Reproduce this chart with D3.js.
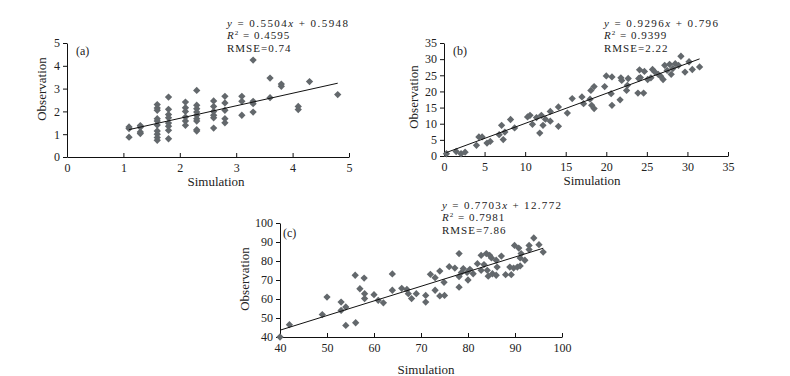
<!DOCTYPE html>
<html>
<head>
<meta charset="utf-8">
<script src="https://cdn.jsdelivr.net/npm/d3@7"></script>
<style>
  body { margin: 0; background: #fff; }
  svg { display: block; }
  text { font-family: "Liberation Serif", "Times New Roman", serif; fill: #222; }
</style>
</head>
<body>
<svg id="chart" width="790" height="376"></svg>
<script>
// panel (a) points [simulation, observation]
const pointsA = [
  [1.1, 1.32], [1.1, 1.25], [1.1, 0.87],
  [1.3, 1.38], [1.3, 1.3], [1.3, 1.1], [1.3, 1.03],
  [1.6, 2.3], [1.6, 2.15], [1.6, 2.05], [1.6, 1.68], [1.6, 1.58], [1.6, 1.4], [1.6, 1.14], [1.6, 1.0], [1.6, 0.85], [1.6, 0.73],
  [1.8, 2.63], [1.8, 2.09], [1.8, 1.86], [1.8, 1.72], [1.8, 1.49], [1.8, 1.35], [1.8, 1.17], [1.8, 0.8],
  [2.1, 2.41], [2.1, 2.16], [2.1, 2.0], [2.1, 1.75], [2.1, 1.58], [2.1, 1.39],
  [2.3, 2.92], [2.3, 2.27], [2.3, 2.12], [2.3, 1.97], [2.3, 1.83], [2.3, 1.68], [2.3, 1.58], [2.3, 1.2], [2.3, 1.14],
  [2.6, 2.46], [2.6, 2.22], [2.6, 2.0], [2.6, 1.83], [2.6, 1.72], [2.6, 1.27],
  [2.8, 2.66], [2.8, 2.37], [2.8, 2.05], [2.8, 1.68], [2.8, 1.5],
  [3.1, 2.66], [3.1, 2.44], [3.1, 1.83],
  [3.3, 4.25], [3.3, 2.44], [3.3, 2.34], [3.3, 1.97],
  [3.6, 3.46], [3.6, 2.6],
  [3.8, 3.2], [3.8, 3.1],
  [4.1, 2.22], [4.1, 2.08],
  [4.3, 3.31],
  [4.8, 2.74]
];

// panel (b) points
const pointsB = [
  [0.3, 0.7], [1.5, 1.4], [2.1, 0.7], [2.6, 1.2], [4.0, 3.3], [4.3, 5.9], [4.7, 5.9],
  [5.3, 4.0], [5.7, 4.5], [6.8, 6.6], [7.1, 9.5], [7.3, 5.1], [7.5, 7.4], [8.2, 11.3],
  [8.7, 8.7], [10.3, 12.1], [10.6, 12.6], [10.9, 9.8], [11.4, 11.9], [11.8, 7.1],
  [12.0, 12.6], [12.2, 9.5], [12.5, 11.4], [13.1, 10.8], [13.1, 13.8], [14.1, 15.2],
  [14.1, 9.2], [15.2, 13.3], [15.8, 17.8], [17.0, 18.3], [17.2, 16.2], [18.0, 17.6],
  [18.1, 20.3], [18.2, 15.7], [18.5, 14.7], [18.5, 21.5], [19.8, 21.5], [20.0, 24.8],
  [20.6, 19.3], [20.7, 24.5], [20.7, 15.7], [21.7, 17.4], [21.8, 24.2], [21.9, 23.4],
  [22.5, 20.3], [22.6, 21.9], [22.7, 24.0], [23.9, 19.5], [24.0, 24.0], [24.1, 26.7],
  [24.2, 24.3], [24.6, 19.5], [24.7, 26.2], [25.1, 23.7], [25.5, 24.2], [25.7, 26.8],
  [26.0, 26.0], [26.4, 25.3], [26.7, 24.7], [27.0, 23.7], [27.2, 28.1], [27.5, 26.5],
  [27.8, 28.4], [28.0, 25.3], [28.2, 27.1], [28.5, 28.6], [28.9, 28.1], [29.2, 30.9],
  [29.7, 26.0], [30.2, 29.2], [30.6, 26.8], [31.5, 27.6]
];

// panel (c) points
const pointsC = [
  [40, 40], [42, 46.5], [49, 51.8], [50, 61], [53, 58.4], [53, 54], [54, 55.8], [54, 46.1],
  [56, 72.5], [56.1, 47.5], [57, 65.4], [57.9, 71], [58, 62.8], [58, 60.2], [60, 62.3],
  [60.9, 59.3], [62, 58], [63.9, 73.2], [63.9, 64.6], [65.9, 65.6], [67, 65], [67.3, 62.8],
  [68, 60.2], [69, 62.8], [71, 61.9], [71, 58.4], [72, 73], [73, 71.2], [73, 64.6],
  [74, 74.7], [74, 61.6], [74.9, 68.8], [75, 61.9], [76, 77], [77.2, 76.3], [78.1, 83.9],
  [78.1, 71.8], [78.1, 66.2], [78.6, 74], [79, 76], [79.8, 74], [80, 70], [80.4, 75.6],
  [81.1, 73.3], [82, 78.6], [82.8, 83], [82.8, 75.1], [83.4, 78.1], [83.9, 83.9],
  [84.1, 75.1], [84.3, 72], [84.6, 83], [85, 81.6], [85.2, 73.3], [86, 72.5], [86, 80.4],
  [86.2, 76.8], [87.1, 82.6], [88, 72.8], [88.9, 76.8], [89.2, 72.8], [89.7, 76.3],
  [89.9, 88.2], [90.5, 76.8], [90.8, 86.8], [91.1, 81.6], [91.1, 77.4], [91.3, 83.9],
  [92.1, 80.4], [93, 88.2], [93, 86], [94, 92.1], [95.1, 88.6], [96, 84.7]
];

const fitSlope = [0.5504, 0.9296, 0.7703];
const fitIntercept = [0.5948, 0.796, 12.772];
const fitR2 = ['0.4595', '0.9399', '0.7981'];
const fitRmse = ['0.74', '2.22', '7.86'];
const panelLabels = ['(a)', '(b)', '(c)'];

const ticksA = [0, 1, 2, 3, 4, 5];
const ticksB = [0, 5, 10, 15, 20, 25, 30, 35];
const ticksC = [40, 50, 60, 70, 80, 90, 100];

const panels = [
  { pts: pointsA, ticks: ticksA, xr: [67, 349], yr: [157, 43], xTitle: [216, 186], yTitle: [46, 89], eq: [227, 27], eqW: 121, tag: [76, 55] },
  { pts: pointsB, ticks: ticksB, xr: [444, 728], yr: [156, 43], xTitle: [592, 185], yTitle: [418, 97], eq: [604, 27], eqW: 114, tag: [453, 55] },
  { pts: pointsC, ticks: ticksC, xr: [280, 562], yr: [337, 223], xTitle: [426, 374], yTitle: [249, 279], eq: [442, 209], eqW: 119, tag: [283, 237] }
];

const svg = d3.select('#chart');
const markColor = '#63686c';
const diamond = d3.symbol().type(d3.symbolDiamond2).size(34);
const lineGap = 12.4;

panels.forEach((p, i) => {
  const dom = [p.ticks[0], p.ticks[p.ticks.length - 1]];
  const x = d3.scaleLinear().domain(dom).range(p.xr);
  const y = d3.scaleLinear().domain(dom).range(p.yr);
  const g = svg.append('g');

  // axes
  const xAxis = d3.axisBottom(x).tickValues(p.ticks).tickSizeInner(-4).tickSizeOuter(0).tickPadding(6).tickFormat(d3.format('d'));
  const yAxis = d3.axisLeft(y).tickValues(p.ticks).tickSizeInner(4).tickSizeOuter(0).tickPadding(3).tickFormat(d3.format('d'));
  g.append('g').attr('transform', `translate(0,${p.yr[0]})`).call(xAxis)
    .call(a => a.selectAll('text').attr('font-size', 12).attr('fill', '#222'))
    .call(a => a.selectAll('line,path').attr('stroke', '#111'));
  g.append('g').attr('transform', `translate(${p.xr[0]},0)`).call(yAxis)
    .call(a => a.selectAll('text').attr('font-size', 12).attr('fill', '#222'))
    .call(a => a.selectAll('line,path').attr('stroke', '#111'));

  // points
  g.selectAll('path.pt').data(p.pts).enter().append('path')
    .attr('class', 'pt')
    .attr('d', diamond)
    .attr('transform', d => `translate(${x(d[0])},${y(d[1])})`)
    .attr('fill', markColor);

  // trend line
  const xs = d3.extent(p.pts, d => d[0]);
  const line = d3.line().x(d => x(d)).y(d => y(fitSlope[i] * d + fitIntercept[i]));
  g.append('path').datum(xs).attr('d', line)
    .attr('fill', 'none').attr('stroke', '#111').attr('stroke-width', 1);

  // titles
  g.append('text').attr('x', p.xTitle[0]).attr('y', p.xTitle[1])
    .attr('text-anchor', 'middle').attr('font-size', 13).text('Simulation');
  g.append('text').attr('transform', `translate(${p.yTitle[0]},${p.yTitle[1]}) rotate(-90)`)
    .attr('text-anchor', 'middle').attr('font-size', 13).text('Observation');
  g.append('text').attr('x', p.tag[0]).attr('y', p.tag[1]).attr('font-size', 12).text(panelLabels[i]);

  // fit annotation
  const eq = g.append('text').attr('x', p.eq[0]).attr('y', p.eq[1]).attr('font-size', 11)
    .attr('textLength', p.eqW).attr('lengthAdjust', 'spacing').style('white-space', 'pre');
  eq.append('tspan').attr('font-style', 'italic').text('y');
  eq.append('tspan').text(' = ' + fitSlope[i]);
  eq.append('tspan').attr('font-style', 'italic').text('x');
  eq.append('tspan').text(' + ' + fitIntercept[i]);

  const r2 = g.append('text').attr('x', p.eq[0]).attr('y', p.eq[1] + lineGap).attr('font-size', 11)
    .style('white-space', 'pre').attr('letter-spacing', 1);
  r2.append('tspan').attr('font-style', 'italic').text('R');
  r2.append('tspan').attr('font-size', 7).attr('dy', -4).text('2');
  r2.append('tspan').attr('dy', 4).text(' = ' + fitR2[i]);

  g.append('text').attr('x', p.eq[0]).attr('y', p.eq[1] + 2 * lineGap).attr('font-size', 11)
    .attr('letter-spacing', 1).text('RMSE=' + fitRmse[i]);
});
</script>
</body>
</html>
